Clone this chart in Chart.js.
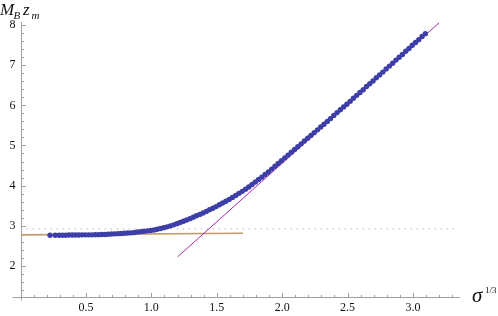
<!DOCTYPE html>
<html>
<head>
<meta charset="utf-8">
<script src="https://cdn.jsdelivr.net/npm/chart.js@4.4.0/dist/chart.umd.min.js"></script>
<style>
    html, body { margin: 0; padding: 0; background: #fff; }
    #wrap { width: 498px; height: 316px; position: relative; }
</style>
</head>
<body>
<div id="wrap"><canvas id="chart"></canvas></div>
<script>
// ==================== DATA ====================

// sigma^(1/3) of the computed points
const sigmaCbrt = [
    0.225, 0.265, 0.295, 0.320, 0.345, 0.370, 0.395, 0.420, 0.445, 0.470,
    0.495, 0.520, 0.545, 0.570, 0.595, 0.620, 0.645, 0.670, 0.695, 0.720,
    0.745, 0.770, 0.795, 0.820, 0.845, 0.870, 0.895, 0.920, 0.945, 0.970,
    0.995, 1.020, 1.045, 1.070, 1.095, 1.120, 1.145, 1.170, 1.195, 1.220,
    1.245, 1.270, 1.295, 1.320, 1.345, 1.370, 1.395, 1.420, 1.445, 1.470,
    1.495, 1.520, 1.545, 1.570, 1.595, 1.620, 1.645, 1.670, 1.695, 1.720,
    1.745, 1.770, 1.795, 1.820, 1.845, 1.870, 1.895, 1.920, 1.945, 1.970,
    1.995, 2.020, 2.045, 2.070, 2.095, 2.120, 2.145, 2.170, 2.195, 2.220,
    2.245, 2.270, 2.295, 2.320, 2.345, 2.370, 2.395, 2.420, 2.445, 2.470,
    2.495, 2.520, 2.545, 2.570, 2.595, 2.620, 2.645, 2.670, 2.695, 2.720,
    2.745, 2.770, 2.795, 2.820, 2.845, 2.870, 2.895, 2.920, 2.945, 2.970,
    2.995, 3.020, 3.045, 3.070, 3.095
];

// M_B z_m at those points
const mbZm = [
    2.760, 2.760, 2.760, 2.760, 2.760, 2.765, 2.765, 2.765, 2.765, 2.770,
    2.770, 2.770, 2.770, 2.775, 2.775, 2.780, 2.780, 2.785, 2.790, 2.795,
    2.800, 2.805, 2.810, 2.815, 2.820, 2.830, 2.840, 2.850, 2.860, 2.870,
    2.880, 2.890, 2.910, 2.930, 2.950, 2.970, 2.995, 3.020, 3.050, 3.080,
    3.110, 3.140, 3.175, 3.210, 3.245, 3.280, 3.315, 3.355, 3.395, 3.435,
    3.475, 3.520, 3.565, 3.610, 3.655, 3.705, 3.755, 3.805, 3.855, 3.910,
    3.965, 4.025, 4.090, 4.150, 4.210, 4.275, 4.340, 4.410, 4.480, 4.550,
    4.620, 4.690, 4.760, 4.830, 4.900, 4.970, 5.040, 5.110, 5.180, 5.250,
    5.320, 5.390, 5.460, 5.530, 5.600, 5.670, 5.750, 5.820, 5.890, 5.960,
    6.030, 6.100, 6.180, 6.250, 6.320, 6.390, 6.470, 6.540, 6.610, 6.690,
    6.760, 6.830, 6.910, 6.980, 7.050, 7.130, 7.200, 7.270, 7.350, 7.420,
    7.500, 7.570, 7.640, 7.720, 7.790
];

// small-sigma asymptote (brown)
const lowFitX = [0, 1.70];
const lowFitY = [2.77, 2.81];

// large-sigma asymptote (purple)
const highFitX = [1.20, 3.20];
const highFitY = [2.22, 8.06];

// dotted reference level
const refX = [0, 3.33];
const refY = [2.92, 2.92];

// axes
const xTicks = [0.5, 1.0, 1.5, 2.0, 2.5, 3.0];
const yTicks = [2, 3, 4, 5, 6, 7, 8];
const xMin = 0, xMax = 3.36;
const yMin = 1.22, yMax = 8.08;

const SERIF = '"Liberation Serif", "Times New Roman", serif';

const toPoints = (xs, ys) => xs.map((x, i) => ({ x: x, y: ys[i] }));

// ==================== PLUGINS ====================

// Mathematica-style axes: lines through the origin, inward major + minor ticks
const axesPlugin = {
    id: 'axes',
    beforeDatasetsDraw(chart) {
        const { ctx, scales: { x, y } } = chart;
        const ox = Math.round(x.getPixelForValue(0)) + 0.5;
        const oy = Math.round(y.getPixelForValue(yMin)) + 0.5;
        ctx.save();
        ctx.strokeStyle = '#a0a0a0';
        ctx.lineWidth = 1;
        ctx.beginPath();
        ctx.moveTo(ox - 9, oy); ctx.lineTo(x.right, oy);
        ctx.moveTo(ox, oy + 3); ctx.lineTo(ox, y.top);

        // x ticks every 0.1, longer on the labelled ones
        for (let i = 1; i <= 33; i++) {
            const px = Math.round(x.getPixelForValue(i / 10)) + 0.5;
            const len = (i % 5 === 0) ? 4.5 : 2.5;
            ctx.moveTo(px, oy); ctx.lineTo(px, oy - len);
        }
        // y ticks every 0.2
        for (let i = 7; i <= 40; i++) {
            const py = Math.round(y.getPixelForValue(i / 5)) + 0.5;
            const len = (i % 5 === 0) ? 4.5 : 2.5;
            ctx.moveTo(ox, py); ctx.lineTo(ox + len, py);
        }
        ctx.stroke();
        ctx.restore();
    }
};

// axis titles: M_B z_m (top left) and sigma^(1/3) (right of x axis)
const titlesPlugin = {
    id: 'titles',
    afterDraw(chart) {
        const { ctx, scales: { y } } = chart;
        const oy = y.getPixelForValue(yMin);
        ctx.save();
        ctx.fillStyle = '#111';
        ctx.textBaseline = 'alphabetic';

        ctx.font = 'italic 17px ' + SERIF;
        ctx.fillText('M', 0, 15);
        ctx.font = 'italic 11px ' + SERIF;
        ctx.fillText('B', 13.5, 18.5);
        ctx.font = 'italic 17px ' + SERIF;
        ctx.fillText('z', 23, 15);
        ctx.font = 'italic 11px ' + SERIF;
        ctx.fillText('m', 31.5, 18.5);

        ctx.font = 'italic 21px ' + SERIF;
        ctx.fillText('\u03C3', 472, oy + 5);
        ctx.font = '9px ' + SERIF;
        ctx.fillText('1/3', 485, oy - 4);
        ctx.restore();
    }
};

// ==================== CHART ====================

Chart.defaults.font.family = SERIF;
Chart.defaults.font.size = 12;
Chart.defaults.color = '#111';

new Chart(document.getElementById('chart'), {
    type: 'scatter',
    data: {
        datasets: [
            {
                label: 'points',
                data: toPoints(sigmaCbrt, mbZm),
                backgroundColor: 'rgb(62, 62, 168)',
                borderWidth: 0,
                pointRadius: 2.7,
                order: 0
            },
            {
                label: 'high',
                data: toPoints(highFitX, highFitY),
                showLine: true,
                borderColor: 'rgb(170, 40, 175)',
                borderWidth: 1,
                pointRadius: 0,
                order: 1
            },
            {
                label: 'low',
                data: toPoints(lowFitX, lowFitY),
                showLine: true,
                borderColor: 'rgb(196, 156, 108)',
                borderWidth: 1.6,
                pointRadius: 0,
                order: 2
            },
            {
                label: 'ref',
                data: toPoints(refX, refY),
                showLine: true,
                borderColor: 'rgb(185, 185, 185)',
                borderWidth: 1,
                borderDash: [1.5, 4.5],
                pointRadius: 0,
                order: 3
            }
        ]
    },
    options: {
        responsive: true,
        maintainAspectRatio: false,
        animation: false,
        layout: { padding: { left: 0, right: 38, top: 22, bottom: 0 } },
        plugins: {
            legend: { display: false },
            tooltip: { enabled: false }
        },
        scales: {
            x: {
                type: 'linear',
                min: xMin,
                max: xMax,
                grid: { display: false, drawTicks: false },
                border: { display: false },
                afterBuildTicks: scale => { scale.ticks = xTicks.map(v => ({ value: v })); },
                afterFit: scale => { scale.height = 19; },
                ticks: {
                    padding: 4,
                    maxRotation: 0,
                    autoSkip: false,
                    color: '#111',
                    font: { family: SERIF, size: 12 },
                    callback: value => Number(value).toFixed(1)
                }
            },
            y: {
                type: 'linear',
                min: yMin,
                max: yMax,
                grid: { display: false, drawTicks: false },
                border: { display: false },
                afterBuildTicks: scale => { scale.ticks = yTicks.map(v => ({ value: v })); },
                afterFit: scale => { scale.width = 20.6; },
                ticks: {
                    padding: 5,
                    autoSkip: false,
                    color: '#111',
                    font: { family: SERIF, size: 12 },
                    callback: value => String(value)
                }
            }
        }
    },
    plugins: [axesPlugin, titlesPlugin]
});
</script>
</body>
</html>
